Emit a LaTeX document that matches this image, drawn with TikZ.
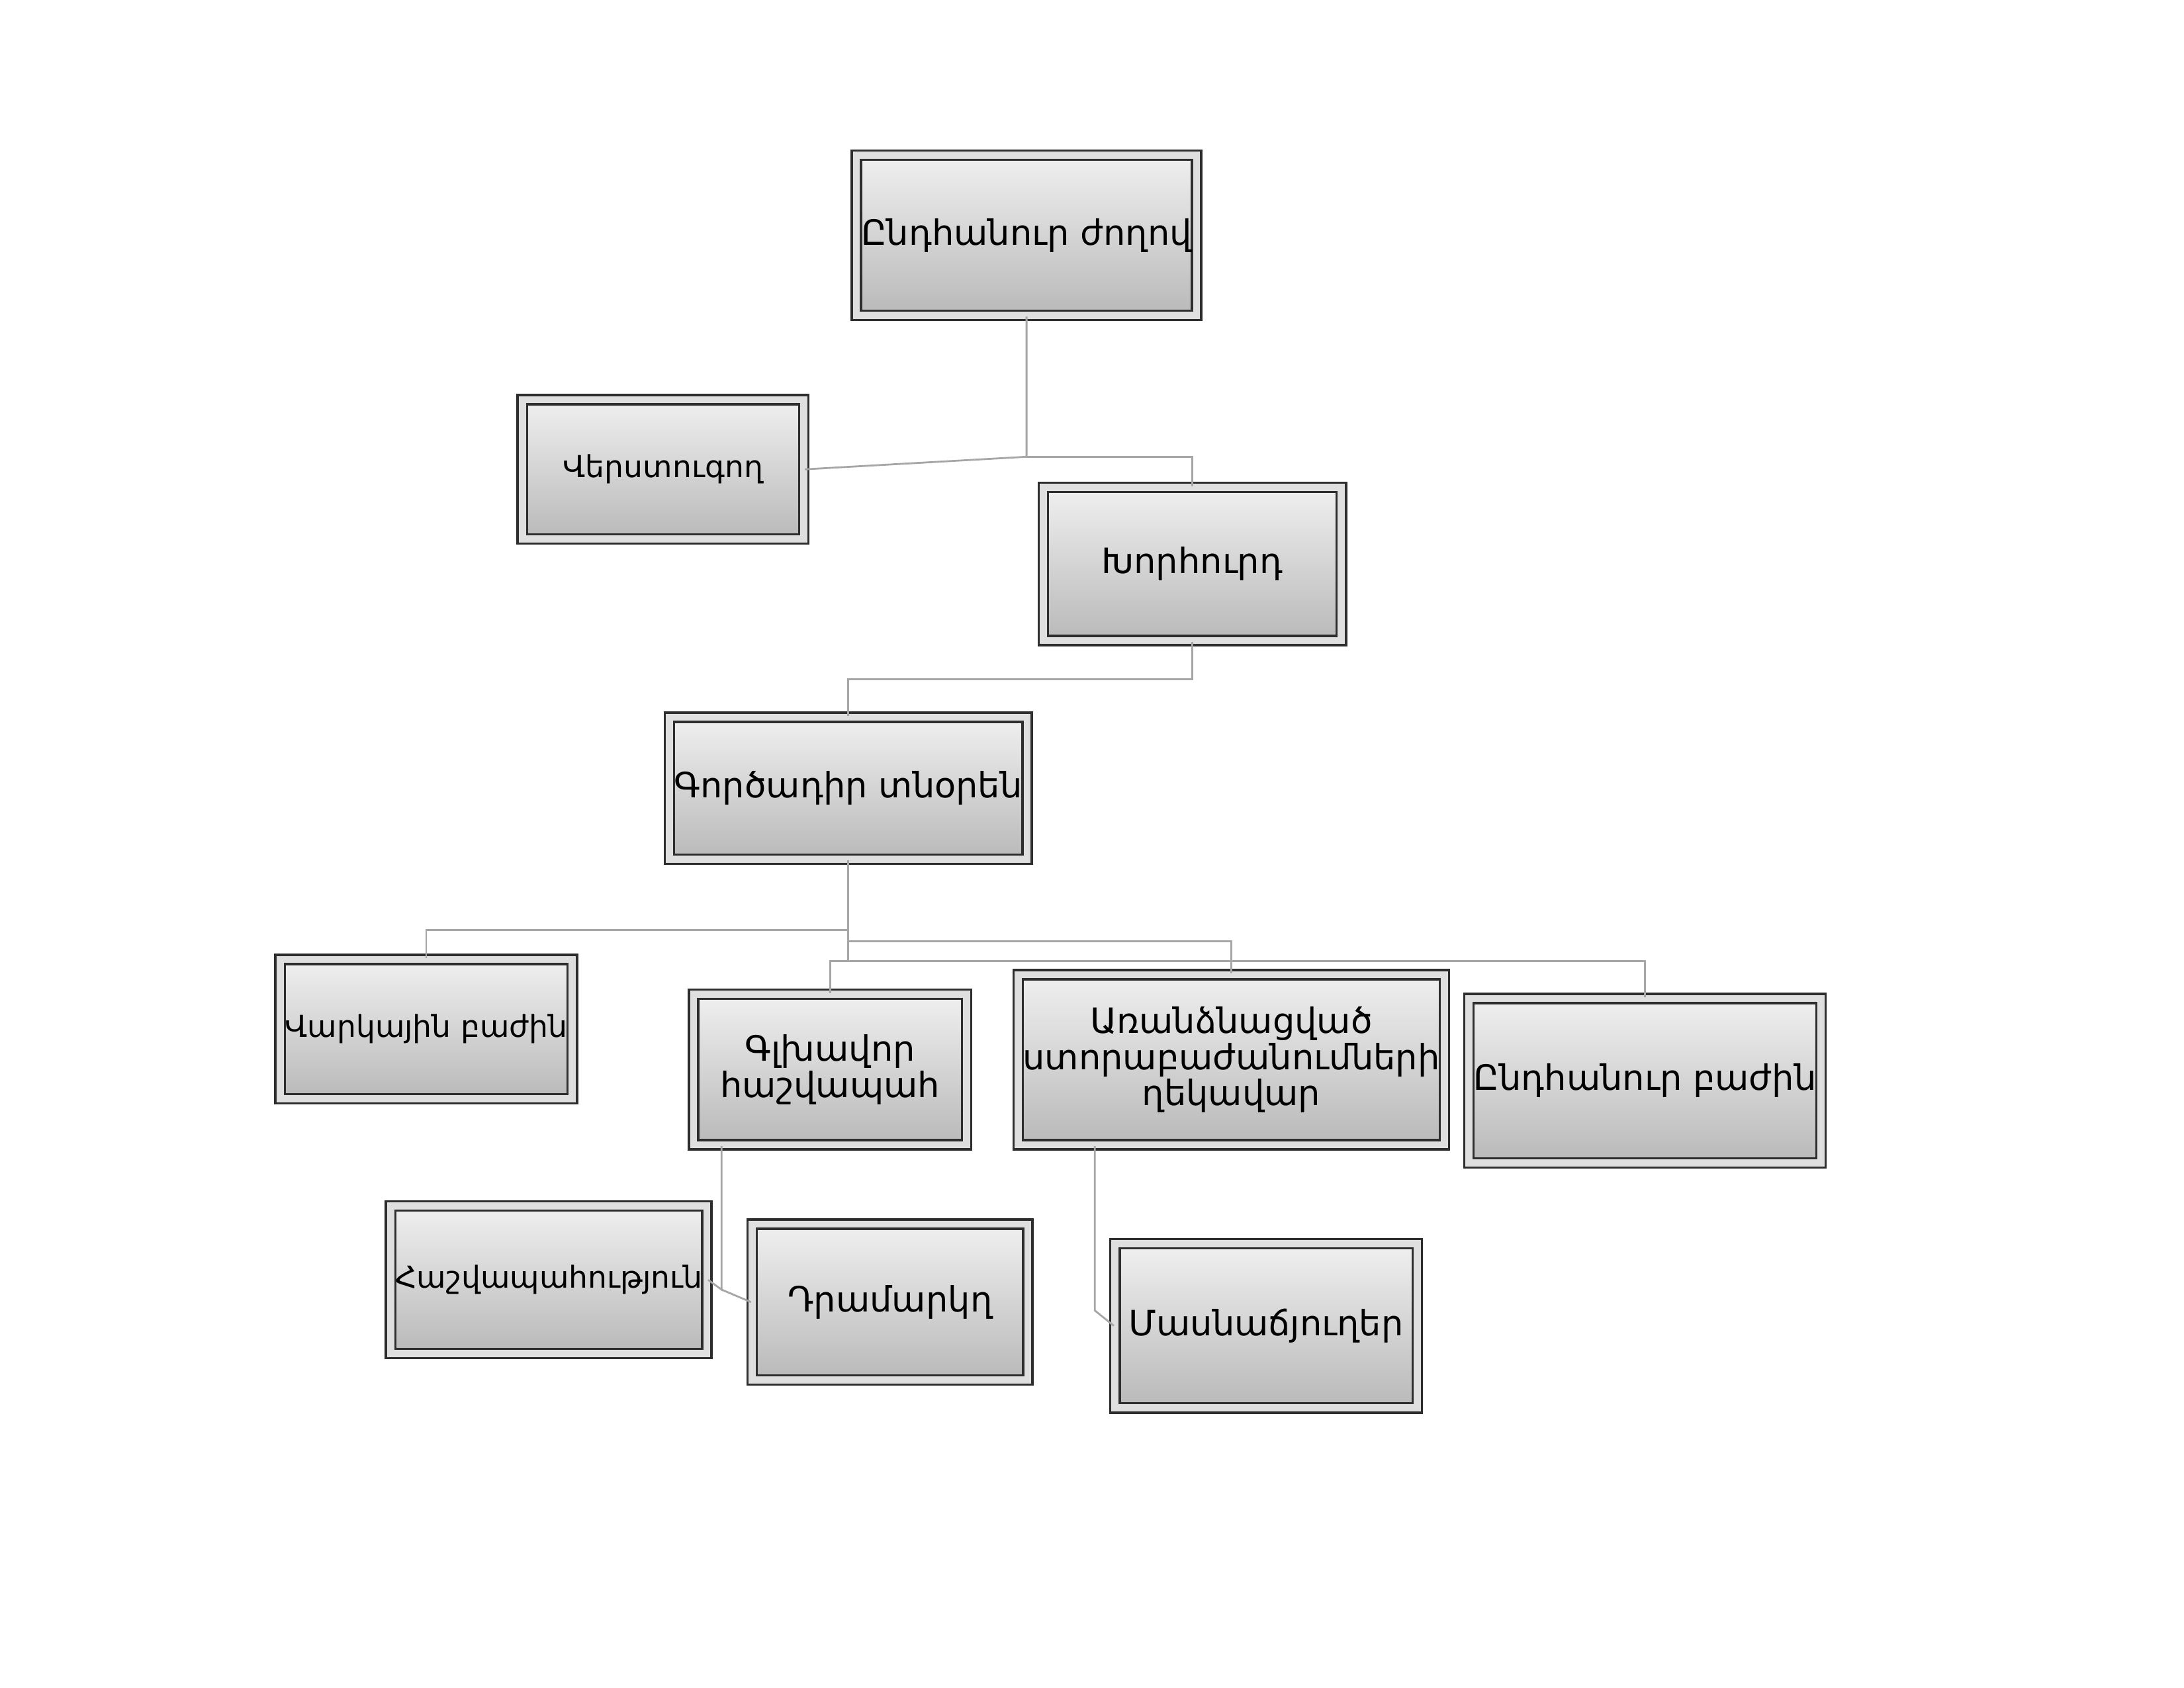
\documentclass[tikz,border=0pt]{standalone}
\usepackage{fontspec}
\setmainfont{DejaVu Sans}
\usetikzlibrary{shadows}
\begin{document}
\begin{tikzpicture}[x=0.02105cm,y=-0.02105cm,
  box/.style={draw=gray!35!black, line width=1pt, double=gray!25, double distance=3pt,
    top color=gray!12, bottom color=gray!55, drop shadow={shadow xshift=2pt,shadow yshift=-2pt,opacity=0.6},
    minimum width=#1, align=center, inner sep=2pt},
  box/.default=190,
  ln/.style={draw=gray!70, line width=0.8pt}]
\useasboundingbox (0,0) rectangle (1568,1212);
\newcommand\fa{\fontsize{13}{15}\selectfont}
\newcommand\fb{\fontsize{15}{19}\selectfont}
\node[box, minimum width=205*0.02105cm, minimum height=115*0.02105cm] (n1) at (737,169) {\fb Ընդհանուր ժողով};
\node[box, minimum width=202*0.02105cm, minimum height=100*0.02105cm] (n2) at (476,337) {\fa Վերստուգող};
\node[box, minimum width=214*0.02105cm, minimum height=110*0.02105cm] (n3) at (856,405) {\fb Խորհուրդ};
\node[box, minimum width=197*0.02105cm, minimum height=102*0.02105cm] (n4) at (609,566) {\fb Գործադիր տնօրեն};
\node[box, minimum width=178*0.02105cm, minimum height=100*0.02105cm] (n5) at (306,739) {\fa Վարկային բաժին};
\node[box, minimum width=196*0.02105cm, minimum height=108*0.02105cm] (n6) at (596,768) {\fb Գլխավոր\\ \fb հաշվապահ};
\node[box, minimum width=244*0.02105cm, minimum height=122*0.02105cm] (n7) at (884,761) {\fb Առանձնացված\\ \fb ստորաբաժանումների\\ \fb ղեկավար};
\node[box, minimum width=237*0.02105cm, minimum height=118*0.02105cm] (n8) at (1181,776) {\fb Ընդհանուր բաժին};
\node[box, minimum width=184*0.02105cm, minimum height=106*0.02105cm] (n9) at (394,919) {\fa Հաշվապահություն};
\node[box, minimum width=198*0.02105cm, minimum height=112*0.02105cm] (n10) at (639,935) {\fb Դրամարկղ};
\node[box, minimum width=217*0.02105cm, minimum height=118*0.02105cm] (n11) at (909,952) {\fb Մասնաճյուղեր};
\coordinate (j1) at (737,328);
\coordinate (j4) at (609,668);
\begin{scope}[on background layer/.style={}]
\draw[ln] (n1.south) -- (j1) -- (n2.east);
\draw[ln] (j1) -| (n3.north);
\draw[ln] (n3.south) -- ++(0,27) -| (n4.north);
\draw[ln] (n4.south) -- (j4);
\draw[ln] (j4) -| (n5.north);
\draw[ln] (j4) -- ++(0,22) -| (n6.north);
\draw[ln] (j4) -- ++(0,8) -| (n7.north);
\draw[ln] (j4) -- ++(0,22) -| (n8.north);
\draw[ln] (n6.south -| 518,0) -- (518,926) -- (n9.east);
\draw[ln] (518,926) -- (n10.west);
\draw[ln] (n7.south -| 786,0) -- (786,941) -- (n11.west);
\end{scope}
\end{tikzpicture}
\end{document}
